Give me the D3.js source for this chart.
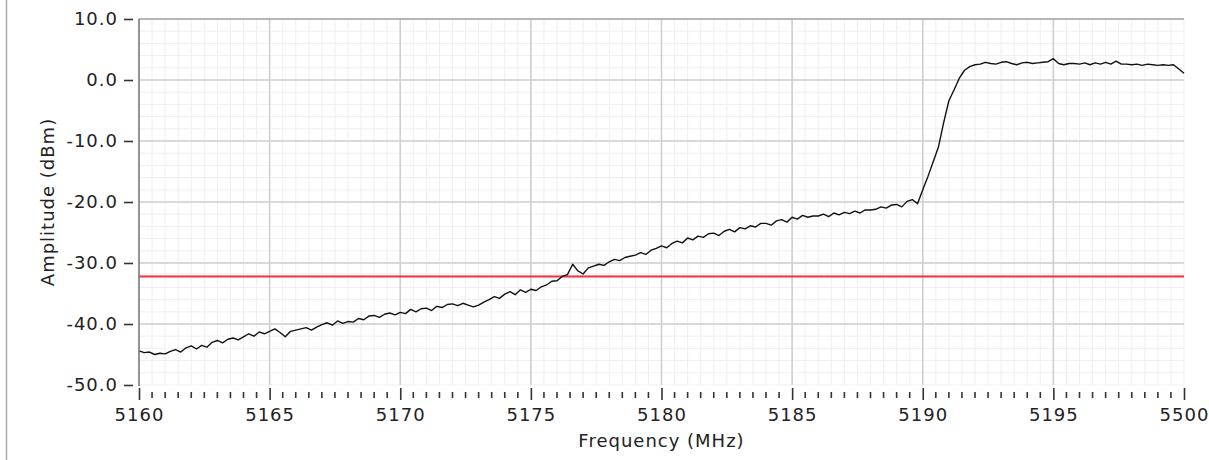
<!DOCTYPE html>
<html>
<head>
<meta charset="utf-8">
<script src="https://cdn.jsdelivr.net/npm/d3@7"></script>
<style>
html,body{margin:0;padding:0;background:#fff;}
svg{display:block;}
text{font-family:"DejaVu Sans",Verdana,sans-serif;fill:#222;}
</style>
</head>
<body>
<svg id="chart" width="1209" height="460"></svg>
<script>
// ---- data ----
const freqStart = 5160, freqStep = 0.2;
const amplitude = [
-44.4,-44.7,-44.6,-45.0,-44.8,-44.9,-44.5,-44.2,-44.6,-43.9,
-43.6,-44.1,-43.5,-43.8,-43.0,-42.7,-43.1,-42.5,-42.3,-42.6,
-42.1,-41.6,-42.0,-41.3,-41.6,-41.2,-40.8,-41.4,-42.1,-41.2,
-41.0,-40.8,-40.6,-41.0,-40.5,-40.1,-39.8,-40.2,-39.5,-39.9,
-39.6,-39.7,-39.1,-39.3,-38.7,-38.6,-38.9,-38.4,-38.2,-38.5,
-38.1,-38.3,-37.6,-38.0,-37.5,-37.4,-37.8,-37.1,-37.3,-36.8,
-36.7,-37.0,-36.6,-36.9,-37.2,-36.9,-36.4,-36.0,-35.5,-35.8,
-35.1,-34.7,-35.2,-34.4,-34.8,-34.3,-34.5,-33.9,-33.6,-33.0,
-32.9,-32.2,-31.9,-30.2,-31.3,-31.8,-30.8,-30.5,-30.2,-30.4,
-29.8,-29.4,-29.6,-29.1,-28.9,-28.7,-28.3,-28.6,-27.9,-27.6,
-27.2,-27.5,-26.8,-26.4,-26.7,-25.9,-26.2,-25.6,-25.8,-25.2,
-25.1,-25.5,-24.8,-24.5,-24.9,-24.2,-24.4,-23.9,-24.1,-23.5,
-23.5,-23.8,-23.1,-22.9,-23.3,-22.5,-22.8,-22.2,-22.5,-22.3,
-22.3,-22.0,-22.4,-21.8,-22.1,-21.7,-21.9,-21.5,-21.8,-21.3,
-21.3,-21.2,-20.8,-21.0,-20.5,-20.4,-20.8,-19.9,-19.6,-20.3,
-18.0,-15.8,-13.4,-11.0,-7.0,-3.4,-1.6,0.3,1.6,2.2,
2.5,2.6,2.9,2.7,2.6,2.9,3.0,2.7,2.5,2.8,
2.9,2.7,2.8,2.9,3.0,3.5,2.7,2.5,2.7,2.7,
2.6,2.8,2.5,2.8,2.6,2.9,2.6,3.1,2.6,2.6,
2.5,2.6,2.4,2.6,2.5,2.4,2.5,2.4,2.5,1.8,
1.1
];
const frequencies = amplitude.map((_, i) => +(freqStart + i * freqStep).toFixed(1));
const thresholdLevel = -32.2;
const xTickValues = [5160, 5165, 5170, 5175, 5180, 5185, 5190, 5195, 5200];
const xTickLabels = ["5160", "5165", "5170", "5175", "5180", "5185", "5190", "5195", "5500"];
const yTickValues = [10, 0, -10, -20, -30, -40, -50];
const xTitle = "Frequency (MHz)";
const yTitle = "Amplitude (dBm)";

// ---- layout ----
const L = 139, R = 1184, T = 19, B = 385;
const svg = d3.select("#chart");
const x = d3.scaleLinear().domain([5160, 5200]).range([L, R]);
const y = d3.scaleLinear().domain([-50, 10]).range([B, T]);

// panel border on left
svg.append("line").attr("x1", 6.5).attr("x2", 6.5).attr("y1", 0).attr("y2", 460)
  .attr("stroke", "#a8a8a8").attr("stroke-width", 1.5);

// minor grid
const minorX = d3.range(5160, 5200.001, 0.5);
const minorY = d3.range(-50, 10.001, 2);
svg.append("g").selectAll("line").data(minorX).join("line")
  .attr("x1", d => x(d)).attr("x2", d => x(d)).attr("y1", T).attr("y2", B)
  .attr("stroke", "#efefef").attr("stroke-width", 1);
svg.append("g").selectAll("line").data(minorY).join("line")
  .attr("x1", L).attr("x2", R).attr("y1", d => y(d)).attr("y2", d => y(d))
  .attr("stroke", "#efefef").attr("stroke-width", 1);

// major grid
svg.append("g").selectAll("line").data(xTickValues.slice(1, -1)).join("line")
  .attr("x1", d => x(d)).attr("x2", d => x(d)).attr("y1", T).attr("y2", B)
  .attr("stroke", "#cfcfcf").attr("stroke-width", 1.6);
svg.append("g").selectAll("line").data(yTickValues.slice(1, -1)).join("line")
  .attr("x1", L).attr("x2", R).attr("y1", d => y(d)).attr("y2", d => y(d))
  .attr("stroke", "#cfcfcf").attr("stroke-width", 1.6);

// top border
svg.append("line").attr("x1", L).attr("x2", R).attr("y1", T).attr("y2", T)
  .attr("stroke", "#a0a0a0").attr("stroke-width", 1.6);

// threshold
svg.append("line").attr("x1", L).attr("x2", R)
  .attr("y1", y(thresholdLevel)).attr("y2", y(thresholdLevel))
  .attr("stroke", "#ff2b3e").attr("stroke-width", 2);

// trace
const line = d3.line().x((d, i) => x(frequencies[i])).y(d => y(d));
svg.append("path").datum(amplitude).attr("d", line)
  .attr("fill", "none").attr("stroke", "#111").attr("stroke-width", 1.4)
  .attr("stroke-linejoin", "round");

// left axis
const fmt = d3.format(".1f");
const yAxis = d3.axisLeft(y).tickValues(yTickValues)
  .tickFormat(d => fmt(d).replace("\u2212", "-"))
  .tickSize(9).tickPadding(6);
const gy = svg.append("g").attr("transform", `translate(${L - 6},0)`).call(yAxis);
gy.select(".domain").remove();
gy.selectAll(".tick line").attr("stroke", "#333").attr("stroke-width", 1.6);
gy.selectAll(".tick text").attr("font-size", 18).attr("letter-spacing", "1px")
  .attr("fill", "#222").style("font-family", "'DejaVu Sans', sans-serif");
svg.append("line").attr("x1", L).attr("x2", L).attr("y1", T).attr("y2", B + 1)
  .attr("stroke", "#7a7a7a").attr("stroke-width", 1.6);

// bottom axis (major + minor ticks)
const gx = svg.append("g");
gx.selectAll("line.minor").data(minorX.filter(v => Math.abs(v / 5 - Math.round(v / 5)) > 1e-6))
  .join("line").attr("class", "minor")
  .attr("x1", d => x(d)).attr("x2", d => x(d)).attr("y1", 392).attr("y2", 398)
  .attr("stroke", "#333").attr("stroke-width", 1.6);
const xAxis = d3.axisBottom(x).tickValues(xTickValues)
  .tickFormat((d, i) => xTickLabels[i]).tickSize(12).tickPadding(8);
const gxa = svg.append("g").attr("transform", `translate(0,${B + 3})`).call(xAxis);
gxa.select(".domain").remove();
gxa.selectAll(".tick line").attr("stroke", "#333").attr("stroke-width", 1.6);
gxa.selectAll(".tick text").attr("font-size", 18).attr("letter-spacing", "1px")
  .attr("fill", "#222").style("font-family", "'DejaVu Sans', sans-serif");

// titles
svg.append("text").attr("x", (L + R) / 2).attr("y", 447).attr("text-anchor", "middle")
  .attr("font-size", 18).attr("letter-spacing", "1px").text(xTitle);
svg.append("text").attr("transform", `translate(54,${(T + B) / 2}) rotate(-90)`)
  .attr("text-anchor", "middle").attr("font-size", 18).attr("letter-spacing", "1px").text(yTitle);
</script>
</body>
</html>
